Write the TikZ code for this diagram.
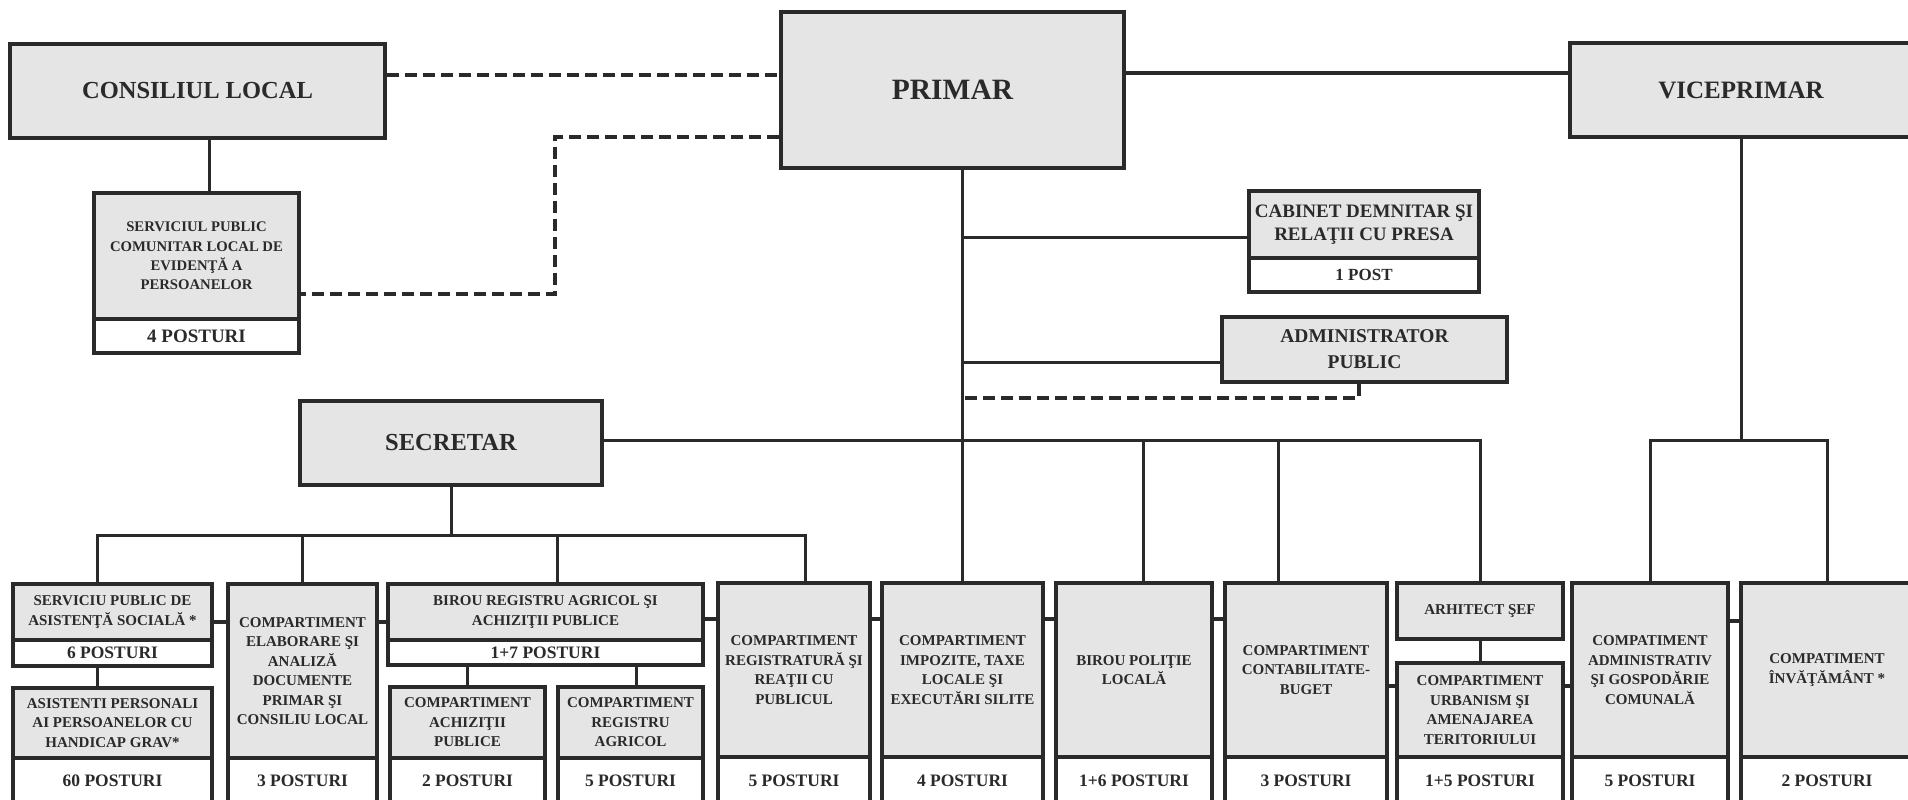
\documentclass[tikz,border=0pt]{standalone}
\usepackage{fontspec}
\setmainfont{Liberation Serif}
\usetikzlibrary{calc}
\definecolor{boxgray}{RGB}{229,229,229}
\definecolor{ink}{RGB}{42,42,42}
\newcommand\fsz[2]{\fontsize{#1}{#2}\selectfont\bfseries}
\begin{document}
\begin{tikzpicture}[x=1pt,y=-1pt,
  box/.style={draw=ink, line width=3.5pt, fill=boxgray, inner sep=0pt, align=center, text=ink},
  postbox/.style={box, fill=white},
  tbox/.style={box, font=\fsz{15}{19.5}},
  pbox/.style={postbox, font=\fsz{17.5}{20}},
  conn/.style={draw=ink, line width=3pt},
  dsh/.style={draw=ink, line width=3.5pt, dash pattern=on 12pt off 6pt},
  bridge/.style={draw=ink, line width=4.5pt},
]
\useasboundingbox (0,0) rectangle (1908,800);
\clip (0,0) rectangle (1908,800);
\fill[white] (0,0) rectangle (1908,800);

% ---- top level
\node[box, minimum width=375pt, minimum height=94pt, font=\fsz{24.5}{28}] (cons) at (197.5,91) {CONSILIUL LOCAL};
\node[box, minimum width=343pt, minimum height=156pt, font=\fsz{29.5}{33}] (primar) at (952.5,90) {PRIMAR};
\node[box, minimum width=342pt, minimum height=94pt, font=\fsz{25}{29}] (vice) at (1741,90) {VICEPRIMAR};
\node[box, minimum width=205pt, minimum height=126pt, font=\fsz{14.7}{19.3}] (spc) at (196.5,256) {SERVICIUL PUBLIC\\COMUNITAR LOCAL DE\\EVIDENŢĂ A\\PERSOANELOR};
\node[postbox, minimum width=205pt, minimum height=34pt, font=\fsz{19}{21}] (spcp) at (196.5,336) {4 POSTURI};
\node[box, minimum width=230pt, minimum height=67pt, font=\fsz{19}{23}] (cab) at (1364,224.5) {CABINET DEMNITAR ŞI\\RELAŢII CU PRESA};
\node[postbox, minimum width=230pt, minimum height=34pt, font=\fsz{17}{20}] (cabp) at (1364,275) {1 POST};
\node[box, minimum width=285pt, minimum height=65pt, font=\fsz{19.5}{26}] (adm) at (1364.5,349.5) {ADMINISTRATOR\\PUBLIC};
\node[box, minimum width=302pt, minimum height=84pt, font=\fsz{24.5}{28}] (sec) at (451,443) {SECRETAR};

% ---- bottom row
\node[tbox, minimum width=199pt, minimum height=56pt] (sps) at (112.5,612) {SERVICIU PUBLIC DE\\ASISTENŢĂ SOCIALĂ *};
\node[pbox, minimum width=199pt, minimum height=26pt] (spsp) at (112.5,653) {6 POSTURI};
\node[tbox, minimum width=199pt, minimum height=70pt] (asi) at (112.5,723) {ASISTENTI PERSONALI\\AI PERSOANELOR CU\\HANDICAP GRAV*};
\node[pbox, minimum width=199pt, minimum height=46pt] (asip) at (112.5,781) {60 POSTURI};

\node[tbox, minimum width=149pt, minimum height=174pt] (elab) at (302.5,671) {COMPARTIMENT\\ELABORARE ŞI\\ANALIZĂ\\DOCUMENTE\\PRIMAR ŞI\\CONSILIU LOCAL};
\node[pbox, minimum width=149pt, minimum height=46pt] (elabp) at (302.5,781) {3 POSTURI};

\node[tbox, minimum width=315pt, minimum height=56pt] (bir) at (545.5,612) {BIROU REGISTRU AGRICOL ŞI\\ACHIZIŢII PUBLICE};
\node[pbox, minimum width=315pt, minimum height=25pt] (birp) at (545.5,652.5) {1+7 POSTURI};
\node[tbox, minimum width=155pt, minimum height=71pt] (ach) at (467.5,722.5) {COMPARTIMENT\\ACHIZIŢII\\PUBLICE};
\node[pbox, minimum width=155pt, minimum height=46pt] (achp) at (467.5,781) {2 POSTURI};
\node[tbox, minimum width=145pt, minimum height=71pt] (rag) at (630.5,722.5) {COMPARTIMENT\\REGISTRU\\AGRICOL};
\node[pbox, minimum width=145pt, minimum height=46pt] (ragp) at (630.5,781) {5 POSTURI};

\node[tbox, minimum width=152pt, minimum height=174pt] (reg) at (794,670) {COMPARTIMENT\\REGISTRATURĂ ŞI\\REAŢII CU\\PUBLICUL};
\node[pbox, minimum width=152pt, minimum height=47pt] (regp) at (794,780.5) {5 POSTURI};
\node[tbox, minimum width=161pt, minimum height=174pt] (imp) at (962.5,670) {COMPARTIMENT\\IMPOZITE, TAXE\\LOCALE ŞI\\EXECUTĂRI SILITE};
\node[pbox, minimum width=161pt, minimum height=47pt] (impp) at (962.5,780.5) {4 POSTURI};
\node[tbox, minimum width=156pt, minimum height=174pt] (pol) at (1134,670) {BIROU POLIŢIE\\LOCALĂ};
\node[pbox, minimum width=156pt, minimum height=47pt] (polp) at (1134,780.5) {1+6 POSTURI};
\node[tbox, minimum width=162pt, minimum height=174pt] (con) at (1306,670) {COMPARTIMENT\\CONTABILITATE-\\BUGET};
\node[pbox, minimum width=162pt, minimum height=47pt] (conp) at (1306,780.5) {3 POSTURI};
\node[tbox, minimum width=166pt, minimum height=56pt] (arh) at (1480,611) {ARHITECT ŞEF};
\node[tbox, minimum width=166pt, minimum height=94pt] (urb) at (1480,710) {COMPARTIMENT\\URBANISM ŞI\\AMENAJAREA\\TERITORIULUI};
\node[pbox, minimum width=166pt, minimum height=47pt] (urbp) at (1480,780.5) {1+5 POSTURI};
\node[tbox, minimum width=156pt, minimum height=174pt] (adc) at (1650,670) {COMPATIMENT\\ADMINISTRATIV\\ŞI GOSPODĂRIE\\COMUNALĂ};
\node[pbox, minimum width=156pt, minimum height=47pt] (adcp) at (1650,780.5) {5 POSTURI};
\node[tbox, minimum width=172pt, minimum height=174pt] (inv) at (1827,670) {COMPATIMENT\\ÎNVĂŢĂMÂNT *};
\node[pbox, minimum width=172pt, minimum height=47pt] (invp) at (1827,780.5) {2 POSTURI};

% ---- connectors (top)
\coordinate (spcT) at ([xshift=12.5pt]spc.north);
\draw[conn] (spcT |- cons.south) -- (spcT);
\draw[dsh] (cons.east |- 0,75) -- (primar.west |- 0,75);
\draw[dsh] (primar.west |- 0,137) -| (555,294) -- (spc.east |- 0,294);
\draw[conn] (primar.east |- 0,73) -- (vice.west |- 0,73);
\draw[conn] (primar.south -| imp.north) -- (imp.north);
\draw[conn] (imp.north |- 0,237) -- (cab.west |- 0,237);
\draw[conn] (imp.north |- 0,362) -- (adm.west |- 0,362);
\draw[dsh] (adm.south -| 1359,0) -- (1359,398) -- (imp.north |- 0,398);

% ---- primar bus
\coordinate (polT) at ([xshift=9pt]pol.north);
\coordinate (conT) at ([xshift=-28pt]con.north);
\draw[conn] (sec.east |- 0,440) -- (arh.north |- 0,440) -- (arh.north);
\draw[conn] (polT |- 0,440) -- (polT);
\draw[conn] (conT |- 0,440) -- (conT);
\draw[conn] (arh.south) -- (urb.north);

% ---- secretar bus
\coordinate (spsT) at ([xshift=-15.5pt]sps.north);
\coordinate (birT) at ([xshift=11.5pt]bir.north);
\coordinate (regT) at ([xshift=11pt]reg.north);
\coordinate (ragT) at ([xshift=5.5pt]rag.north);
\draw[conn] (sec.south) -- (sec.south |- 0,535);
\draw[conn] (spsT) -- (spsT |- 0,535) -- (regT |- 0,535) -- (regT);
\draw[conn] (elab.north) -- (elab.north |- 0,535);
\draw[conn] (birT) -- (birT |- 0,535);
\draw[conn] (spsp.south -| spsT) -- (asi.north -| spsT);
\draw[conn] (ach.north) -- (ach.north |- birp.south);
\draw[conn] (ragT) -- (ragT |- birp.south);

% ---- viceprimar bus
\draw[conn] (vice.south) -- (vice.south |- 0,440);
\draw[conn] (adc.north) -- (adc.north |- 0,440) -- (inv.north |- 0,440) -- (inv.north);

% ---- bridges between neighbouring boxes
\draw[bridge] (sps.east |- 0,622) -- (elab.west |- 0,622);
\draw[bridge] (elab.east |- 0,622) -- (bir.west |- 0,622);
\draw[bridge] (bir.east |- 0,619) -- (reg.west |- 0,619);
\draw[bridge] (reg.east |- 0,619) -- (imp.west |- 0,619);
\draw[bridge] (imp.east |- 0,619) -- (pol.west |- 0,619);
\draw[bridge] (pol.east |- 0,619) -- (con.west |- 0,619);
\draw[bridge] (con.east |- 0,686) -- (urb.west |- 0,686);
\draw[bridge] (urb.east |- 0,686) -- (adc.west |- 0,686);
\draw[bridge] (adc.east |- 0,621) -- (inv.west |- 0,621);
\end{tikzpicture}
\end{document}
